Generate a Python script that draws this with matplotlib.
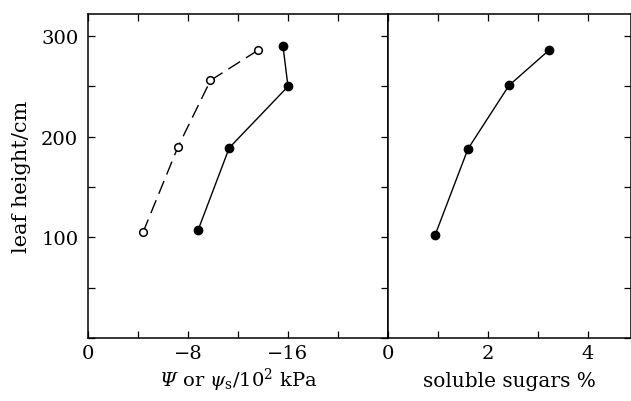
import numpy as np
import matplotlib
matplotlib.use('Agg')
import matplotlib.pyplot as plt

plt.rcParams['font.family'] = 'DejaVu Serif'
# rm is italic so that the capital Psi comes out slanted; sf is the upright serif
plt.rcParams['mathtext.fontset'] = 'custom'
plt.rcParams['mathtext.rm'] = 'DejaVu Serif:italic'
plt.rcParams['mathtext.it'] = 'DejaVu Serif:italic'
plt.rcParams['mathtext.sf'] = 'DejaVu Serif'

# water potential (dashed, open) and osmotic potential (solid, filled)
psi_x = [-4.4, -7.2, -9.8, -13.6]
psi_y = [105, 190, 256, 286]
psis_x = [-8.8, -11.3, -16.0, -15.6]
psis_y = [107, 189, 250, 290]

# soluble sugars
sug_x = [0.94, 1.6, 2.42, 3.22]
sug_y = [102, 188, 251, 286]

yticks = [0, 50, 100, 150, 200, 250, 300]
ylabels = ['', '', '100', '', '200', '', '300']
lx_ticks = [0, -4, -8, -12, -16, -20, -24]
lx_labels = ['0', '', '\u22128', '', '\u221216', '', '']
rx_ticks = [0, 1, 2, 3, 4]
rx_labels = ['0', '', '2', '', '4']

fig = plt.figure(figsize=(6.31, 4.02), dpi=100)
ax1 = fig.add_axes([88/631, 63/402, 300/631, 324/402])
ax2 = fig.add_axes([388/631, 63/402, 243/631, 324/402])

ax1.plot(psi_x, psi_y, color='black', lw=1.0, dashes=(10, 5),
         marker='o', ms=5.5, mfc='white', mec='black', mew=1.1)
ax1.plot(psis_x, psis_y, color='black', lw=1.0,
         marker='o', ms=6, mfc='black', mec='black')
ax2.plot(sug_x, sug_y, color='black', lw=1.0,
         marker='o', ms=6, mfc='black', mec='black')

ax1.set_xlim(0, -24)
ax2.set_xlim(0, 4.86)
for ax in (ax1, ax2):
    ax.set_ylim(0, 322)
    ax.set_yticks(yticks)
    for s in ax.spines.values():
        s.set_linewidth(1.1)

ax1.set_xticks(lx_ticks)
ax1.set_xticklabels(lx_labels)
ax1.set_yticklabels(ylabels)
ax1.tick_params(axis='x', direction='in', top=True, length=5, width=0.9,
                labelsize=14, pad=4)
ax1.tick_params(axis='y', direction='in', right=True, length=5, width=0.9,
                labelsize=14, pad=7)
ax2.set_xticks(rx_ticks)
ax2.set_xticklabels(rx_labels)
ax2.tick_params(axis='x', direction='in', top=True, length=5, width=0.9,
                labelsize=14, pad=4)
ax2.tick_params(axis='y', direction='in', left=False, right=True,
                labelleft=False, length=5, width=0.9)

ax1.set_ylabel('leaf height/cm', fontsize=15, labelpad=7)
ax1.set_xlabel(r'$\Psi$ or $\psi_{\mathsf{s}}$/10$^{\mathsf{2}}$ kPa', fontsize=14, va='baseline')
ax2.set_xlabel('soluble sugars %', fontsize=14.5, va='baseline')
# put both x labels on the same baseline
ax1.xaxis.set_label_coords(0.5, -0.148)
ax2.xaxis.set_label_coords(0.5, -0.148)

fig.savefig('out.png', dpi=100)
